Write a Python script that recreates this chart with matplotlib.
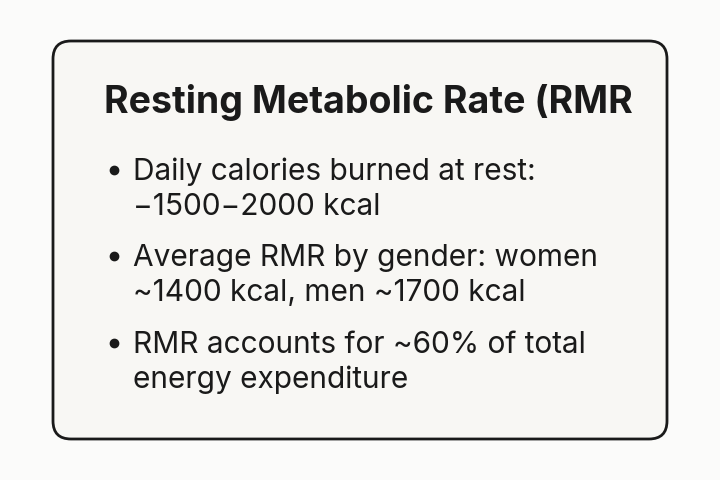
import matplotlib
matplotlib.use("Agg")
import matplotlib.pyplot as plt
from matplotlib.patches import FancyBboxPatch

title = "Resting Metabolic Rate (RMR"
bullets = [
    ["Daily calories burned at rest:", "\u22121500\u22122000 kcal"],
    ["Average RMR by gender: women", "~1400 kcal, men ~1700 kcal"],
    ["RMR accounts for ~60% of total", "energy expenditure"],
]

W, H = 720, 480
fig = plt.figure(figsize=(7.2, 4.8), dpi=100)
fig.patch.set_facecolor("#fbfbfa")
ax = fig.add_axes([0, 0, 1, 1])
ax.set_xlim(0, W); ax.set_ylim(H, 0); ax.axis("off")

ax.add_patch(FancyBboxPatch((53, 41), 614, 398, boxstyle="round,pad=0,rounding_size=18",
                            facecolor="#f8f7f4", edgecolor="#1a1a1a", linewidth=2))
ax.text(104, 113, title, fontsize=27, fontweight="bold", family="Inter",
        color="#1a1a1a", va="baseline", ha="left")
starts = [180, 266, 353]
for y0, lines in zip(starts, bullets):
    ax.plot(114, y0 - 10, "o", color="#1a1a1a", markersize=6)
    for i, ln in enumerate(lines):
        ax.text(133, y0 + i * 35, ln, fontsize=21.5, family="Inter",
                color="#1a1a1a", va="baseline", ha="left")
fig.savefig("out.png", dpi=100)
